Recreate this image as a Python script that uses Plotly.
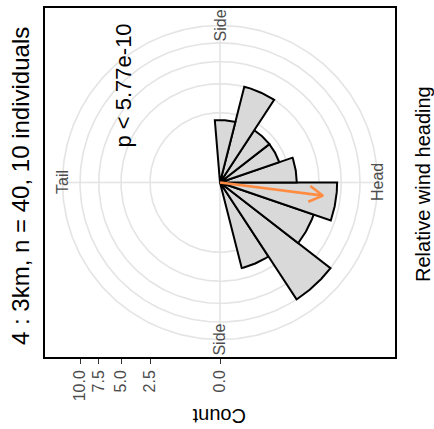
import numpy as np
import plotly.graph_objects as go

# ---- data -----------------------------------------------------------------
# Rose histogram of relative wind heading (19 bins around the circle),
# 0 deg = Head, +/-90 deg = Side, 180 deg = Tail.
bin_index = [-4, -3, -2, -1, 0, 1, 2, 3, 4]          # bin k spans [k, k+1) * width
counts = [4, 10, 5, 7, 3, 2, 2, 5, 2]
n_bins = 19

count_breaks = [0.0, 2.5, 5.0, 7.5, 10.0]
count_labels = ["0.0", "2.5", "5.0", "7.5", "10.0"]

theta_label_deg = [0, 90, 180, 270]
theta_labels = ["Head", "Side", "Tail", "Side"]

mean_dir_deg = -7.3     # mean heading shown by the arrow
mean_len = 5.5          # arrow length in count units

title_text = "4 : 3km, n = 40, 10 individuals"
p_text = "p < 5.77e-10"
x_title = "Relative wind heading"
y_title = "Count"

# ---- layout constants ----------------------------------------------------
W, H = 434, 429
PL, PR, PT, PB = 45, 395, 6, 357          # panel box in pixels
FONT = "Liberation Sans, Arial, sans-serif"
GRID = "#E4E4E4"
GREY30 = "#4D4D4D"

# sqrt radial scale: count 10 lands at 0.4 of the panel, labels at 0.45
r_top = np.sqrt(max(count_breaks))
half = r_top / 0.4 * 0.5
label_r = r_top / 0.4 * 0.45
bin_w = 360.0 / n_bins


def rad(c):
    return np.sqrt(c)


def px_x(p):
    return (p - PL) / (PR - PL)


def px_y(p):
    return (PB - p) / (PB - PT)


fig = go.Figure()

# grid circles
t = np.linspace(0, 2 * np.pi, 361)
for r in [rad(b) for b in count_breaks if b > 0] + [label_r]:
    fig.add_trace(go.Scatter(x=r * np.cos(t), y=r * np.sin(t), mode="lines",
                             line=dict(color=GRID, width=1.6),
                             hoverinfo="skip", showlegend=False))
# spokes
for a in theta_label_deg:
    ar = np.deg2rad(a)
    fig.add_trace(go.Scatter(x=[0, label_r * np.cos(ar)], y=[0, label_r * np.sin(ar)],
                             mode="lines", line=dict(color=GRID, width=1.6),
                             hoverinfo="skip", showlegend=False))

# wedges
for k, c in zip(bin_index, counts):
    a0, a1 = np.deg2rad(k * bin_w), np.deg2rad((k + 1) * bin_w)
    aa = np.linspace(a0, a1, 40)
    r = rad(c)
    xs = np.concatenate([[0], r * np.cos(aa), [0]])
    ys = np.concatenate([[0], r * np.sin(aa), [0]])
    fig.add_trace(go.Scatter(x=xs, y=ys, mode="lines", fill="toself",
                             fillcolor="#D9D9D9",
                             line=dict(color="black", width=2),
                             hoverinfo="skip", showlegend=False))

# mean direction arrow with an open head
ad = np.deg2rad(mean_dir_deg)
L = rad(mean_len)
tip = np.array([L * np.cos(ad), L * np.sin(ad)])
head = 0.36
arms = []
for s in (+1, -1):
    b = ad + np.pi + s * np.deg2rad(30)
    arms.append(tip + head * np.array([np.cos(b), np.sin(b)]))
arrow_col = "#FF8C42"
fig.add_trace(go.Scatter(x=[0, tip[0]], y=[0, tip[1]], mode="lines",
                         line=dict(color=arrow_col, width=2.6),
                         hoverinfo="skip", showlegend=False))
fig.add_trace(go.Scatter(x=[arms[0][0], tip[0], arms[1][0]],
                         y=[arms[0][1], tip[1], arms[1][1]], mode="lines",
                         line=dict(color=arrow_col, width=2.6),
                         hoverinfo="skip", showlegend=False))

annotations = []
# direction labels
for a, lab in zip(theta_label_deg, theta_labels):
    ar = np.deg2rad(a)
    annotations.append(dict(x=label_r * np.cos(ar), y=label_r * np.sin(ar),
                            xref="x", yref="y", text=lab, showarrow=False,
                            textangle=-90, xanchor="center", yanchor="middle",
                            font=dict(family=FONT, size=16, color=GREY30)))

annotations += [
    dict(x=px_x(21), y=px_y(185), xref="paper", yref="paper", text=title_text,
         showarrow=False, textangle=-90, xanchor="center", yanchor="middle",
         font=dict(family=FONT, size=24, color="black")),
    dict(x=px_x(124), y=px_y(84), xref="paper", yref="paper", text=p_text,
         showarrow=False, textangle=-90, xanchor="center", yanchor="middle",
         font=dict(family=FONT, size=22, color="black")),
    dict(x=px_x(423), y=px_y(183), xref="paper", yref="paper", text=x_title,
         showarrow=False, textangle=-90, xanchor="center", yanchor="middle",
         font=dict(family=FONT, size=20, color="black")),
    dict(x=px_x(219.5), y=px_y(417), xref="paper", yref="paper", text=y_title,
         showarrow=False, textangle=180, xanchor="center", yanchor="middle",
         font=dict(family=FONT, size=20, color="black")),
]

fig.update_layout(
    width=W, height=H,
    margin=dict(l=PL, r=W - PR, t=PT, b=H - PB, pad=0),
    paper_bgcolor="white", plot_bgcolor="white",
    showlegend=False,
    annotations=annotations,
    xaxis=dict(range=[-half, half], showgrid=False, zeroline=False,
               showline=True, mirror=True, linecolor="black", linewidth=1.6,
               ticks="outside", ticklen=5, tickwidth=1.2, tickcolor="#333333",
               tickvals=[-rad(b) for b in count_breaks], ticktext=count_labels,
               tickangle=-90, tickfont=dict(family=FONT, size=16, color=GREY30)),
    yaxis=dict(range=[-half, half], showgrid=False, zeroline=False,
               showline=True, mirror=True, linecolor="black", linewidth=1.6,
               ticks="", showticklabels=False),
)

fig.write_html("out.html")
